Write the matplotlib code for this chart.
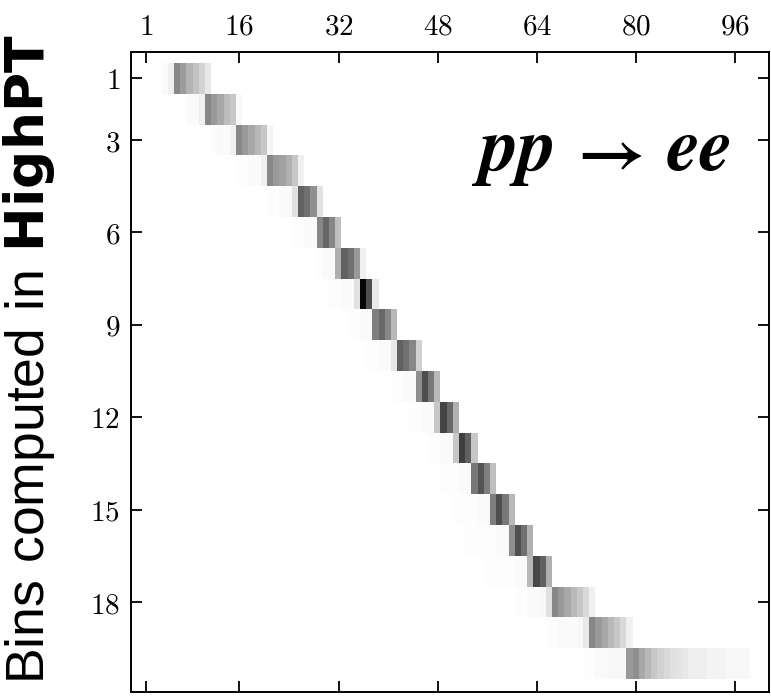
import numpy as np
import matplotlib
matplotlib.use("Agg")
import matplotlib.pyplot as plt

# Coarse HighPT bins (rows) against fine bins (columns, 1-based).
n_rows = 20
n_cols = 101

# First fine bin listed for each HighPT bin, and the weights from there on
row_start = [4, 8, 12, 16, 21, 25, 29, 31, 34, 37,
             41, 44, 47, 49, 51, 53, 56, 61, 66, 72]
row_weights = [
    [0.02, 0.06, 0.47, 0.39, 0.30, 0.24, 0.17, 0.09],
    [0.02, 0.02, 0.06, 0.47, 0.40, 0.34, 0.26, 0.22, 0.03],
    [0.01, 0.02, 0.02, 0.06, 0.47, 0.40, 0.34, 0.28, 0.22, 0.04],
    [0.01, 0.01, 0.02, 0.02, 0.06, 0.47, 0.40, 0.37, 0.31, 0.22, 0.06],
    [0.01, 0.01, 0.02, 0.02, 0.12, 0.62, 0.56, 0.44, 0.12],
    [0.01, 0.01, 0.02, 0.02, 0.47, 0.59, 0.47, 0.25],
    [0.01, 0.02, 0.02, 0.31, 0.62, 0.56, 0.40, 0.06],
    [0.01, 0.01, 0.02, 0.02, 0.12, 0.97, 0.69, 0.09],
    [0.01, 0.01, 0.02, 0.02, 0.50, 0.59, 0.47, 0.28],
    [0.01, 0.01, 0.02, 0.02, 0.09, 0.62, 0.56, 0.47, 0.18],
    [0.01, 0.01, 0.02, 0.02, 0.44, 0.69, 0.53, 0.28],
    [0.01, 0.01, 0.02, 0.02, 0.22, 0.73, 0.59, 0.31],
    [0.01, 0.01, 0.02, 0.02, 0.22, 0.75, 0.62, 0.22],
    [0.01, 0.01, 0.01, 0.02, 0.02, 0.53, 0.67, 0.50, 0.25],
    [0.01, 0.01, 0.01, 0.01, 0.02, 0.02, 0.50, 0.69, 0.53, 0.28],
    [0.01, 0.01, 0.01, 0.01, 0.01, 0.02, 0.02, 0.44, 0.69, 0.56, 0.31],
    [0.01, 0.01, 0.01, 0.01, 0.01, 0.02, 0.02, 0.28, 0.72, 0.62, 0.31],
    [0.01, 0.01, 0.02, 0.02, 0.03, 0.12, 0.47, 0.40, 0.34, 0.28, 0.22,
     0.15, 0.06],
    [0.01, 0.01, 0.02, 0.02, 0.02, 0.03, 0.09, 0.47, 0.40, 0.34, 0.28,
     0.22, 0.15, 0.06],
    [0.01, 0.01, 0.02, 0.02, 0.03, 0.03, 0.03, 0.40, 0.44, 0.34, 0.28,
     0.22, 0.18, 0.15, 0.12, 0.11, 0.09, 0.07, 0.07, 0.07, 0.05, 0.05,
     0.05, 0.03, 0.03, 0.03, 0.03],
]

x_ticks = [1, 16, 32, 48, 64, 80, 96]
y_ticks = [1, 3, 6, 9, 12, 15, 18]

weights = np.zeros((n_rows, n_cols))
for r, (start, vals) in enumerate(zip(row_start, row_weights)):
    weights[r, start - 1:start - 1 + len(vals)] = vals

# fonts used by the axis label (regular sans part + bold part)
plt.rcParams["mathtext.rm"] = "Liberation Sans"
plt.rcParams["mathtext.bf"] = "DejaVu Sans:bold"

W, H = 771, 697
fig = plt.figure(figsize=(W / 100, H / 100), dpi=100)
ax = fig.add_axes([131 / W, 1 - 691.7 / H, (769 - 131) / W, (691.7 - 52) / H])

ax.imshow(weights, cmap="gray_r", vmin=0, vmax=1, aspect="auto",
          interpolation="nearest",
          extent=(0.5, n_cols + 0.5, n_rows + 0.5, 0.5))
ax.set_xlim(-1.5, 101.5)
ax.set_ylim(20.91, 0.14)

ax.set_xticks(x_ticks)
ax.set_xticklabels([f"${v}$" for v in x_ticks])
ax.set_yticks(y_ticks)
ax.set_yticklabels([f"${v}$" for v in y_ticks])
for tk in ax.xaxis.get_major_ticks() + ax.yaxis.get_major_ticks():
    tk.label1.set_math_fontfamily("cm")
    tk.label2.set_math_fontfamily("cm")

ax.tick_params(which="both", direction="in", top=True, bottom=True,
               left=True, right=True, labeltop=True, labelbottom=False,
               length=8, width=1.3, labelsize=21, pad=8)
for s in ax.spines.values():
    s.set_linewidth(1.4)

ax.set_ylabel(r"$\mathrm{Bins\ computed\ in\ }\mathbf{HighPT}$", fontsize=38.5,
              math_fontfamily="custom")
ax.yaxis.set_label_coords(-0.116, 0.52)

# process label: bold-italic particles with a bold arrow between them
proc_font = dict(fontsize=54, fontweight="bold", fontstyle="italic",
                 family="STIXGeneral", transform=ax.transAxes,
                 va="baseline")
ax.text((481 - 131) / 638, 0.8155, "pp", ha="left", **proc_font)
ax.text((733 - 131) / 638, 0.8155, "ee", ha="right", **proc_font)
ax.text((611 - 131) / 638, (691.7 - 157) / 639.7, "\u2192",
        transform=ax.transAxes, ha="center", va="center", fontsize=50,
        fontweight="bold", family="STIXGeneral")

fig.savefig("out.png", dpi=100)
